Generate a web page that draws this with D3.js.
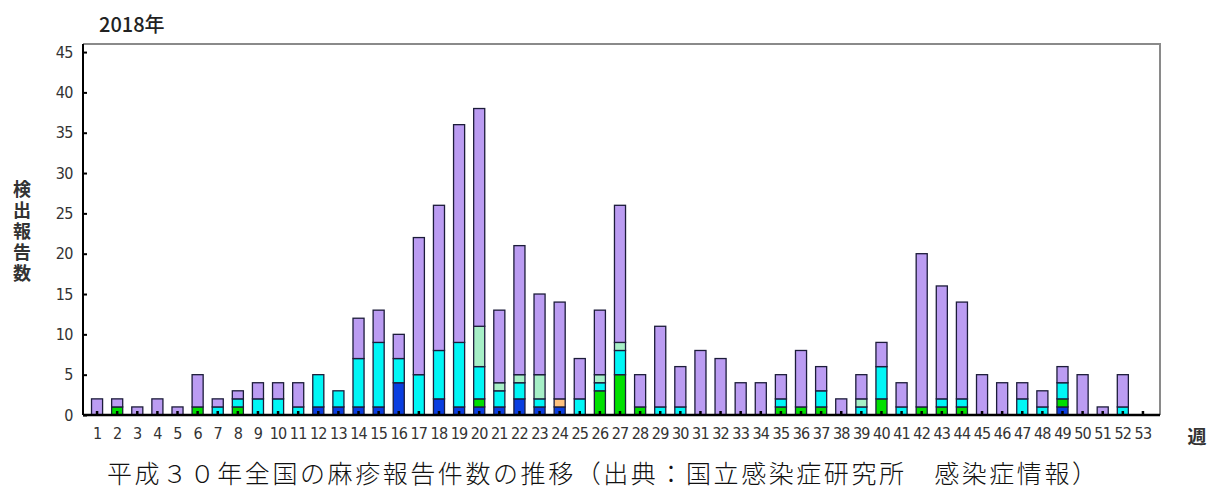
<!DOCTYPE html>
<html>
<head>
<meta charset="utf-8">
<script src="https://cdn.jsdelivr.net/npm/d3@7"></script>
<style>
  body { margin: 0; background: #fff; }
  svg { display: block; }
</style>
</head>
<body>
<script>
// weeks 1..53 of 2018
var weeks = ["1","2","3","4","5","6","7","8","9","10","11","12","13","14","15","16","17","18","19","20",
  "21","22","23","24","25","26","27","28","29","30","31","32","33","34","35","36","37","38","39","40",
  "41","42","43","44","45","46","47","48","49","50","51","52","53"]

// stacked segments, bottom to top
var blue   = [0,0,0,0,0,0,0,0,0,0,0,1,1,1,1,4,0,2,1,1,1,2,1,1,0,0,0,0,0,0,0,0,0,0,0,0,0,0,0,0,0,0,0,0,0,0,0,0,1,0,0,0,0]
var green  = [0,1,0,0,0,1,0,1,0,0,0,0,0,0,0,0,0,0,0,1,0,0,0,0,0,3,5,1,0,0,0,0,0,0,1,1,1,0,0,2,0,1,1,1,0,0,0,0,1,0,0,0,0]
var cyan   = [0,0,0,0,0,0,1,1,2,2,1,4,2,6,8,3,5,6,8,4,2,2,1,0,2,1,3,0,1,1,0,0,0,0,1,0,2,0,1,4,1,0,1,1,0,0,2,1,2,0,0,1,0]
var mint   = [0,0,0,0,0,0,0,0,0,0,0,0,0,0,0,0,0,0,0,5,1,1,3,0,0,1,1,0,0,0,0,0,0,0,0,0,0,0,1,0,0,0,0,0,0,0,0,0,0,0,0,0,0]
var orange = [0,0,0,0,0,0,0,0,0,0,0,0,0,0,0,0,0,0,0,0,0,0,0,1,0,0,0,0,0,0,0,0,0,0,0,0,0,0,0,0,0,0,0,0,0,0,0,0,0,0,0,0,0]
var purple = [2,1,1,2,1,4,1,1,2,2,3,0,0,5,4,3,17,18,27,27,9,16,10,12,5,8,17,4,10,5,8,7,4,4,3,7,3,2,3,3,3,19,14,12,5,4,2,2,2,5,1,4,0]

var yTicks = [0,5,10,15,20,25,30,35,40,45]

var keys = ["blue","green","cyan","mint","orange","purple"]
var colors = ["#0a3ee0","#00e000","#00f6f6","#a6efc6","#ffc27e","#bb9cf2"]

var rows = weeks.map(function (w, i) {
  return { week: w, blue: blue[i], green: green[i], cyan: cyan[i],
    mint: mint[i], orange: orange[i], purple: purple[i] }
})

var svg = d3.select("body")
  .append("svg")
  .attr("width", 1213)
  .attr("height", 491)

var plotL = 83, plotR = 1160, plotT = 44, plotB = 415

var x = d3.scaleBand()
  .domain(weeks)
  .range([87, 1153])
  .paddingInner(0.45)
  .paddingOuter(0.225)

var y = d3.scaleLinear()
  .domain([0, 46])
  .range([plotB, plotT])

// grey frame top / right
svg.append("path")
  .attr("d", "M" + plotL + "," + plotT + "H" + plotR + "V" + plotB)
  .attr("fill", "none")
  .attr("stroke", "#8a8a8a")
  .attr("stroke-width", 2)

var stack = d3.stack().keys(keys)(rows)

svg.selectAll("g.layer")
  .data(stack)
  .enter()
  .append("g")
  .attr("class", "layer")
  .attr("fill", function (d, i) { return colors[i] })
  .selectAll("rect")
  .data(function (d) { return d.filter(function (s) { return s[1] > s[0] }) })
  .enter()
  .append("rect")
  .attr("x", function (d) { return x(d.data.week) })
  .attr("width", x.bandwidth())
  .attr("y", function (d) { return y(d[1]) })
  .attr("height", function (d) { return y(d[0]) - y(d[1]) })
  .attr("stroke", "#1c1c3a")
  .attr("stroke-width", 1.3)

// axes
var numFont = "'Liberation Sans Narrow', 'DejaVu Sans Condensed', 'Roboto', sans-serif"

var yAxis = svg.append("g")
  .attr("transform", "translate(" + plotL + ",0)")
  .call(d3.axisLeft(y).tickValues(yTicks).tickSizeInner(-4).tickSizeOuter(0).tickPadding(10))
yAxis.select(".domain").attr("d", "M0," + plotT + "V" + plotB).attr("stroke", "#000").attr("stroke-width", 2)
yAxis.selectAll(".tick line").attr("stroke", "#000").attr("stroke-width", 2)
yAxis.selectAll("text")
  .style("font-family", numFont)
  .style("font-size", "16px")
  .style("letter-spacing", "-0.5px")
  .attr("fill", "#333")

var xAxis = svg.append("g")
  .attr("transform", "translate(0," + plotB + ")")
  .call(d3.axisBottom(x).tickSizeInner(-4).tickSizeOuter(0).tickPadding(13))
xAxis.select(".domain").attr("d", "M" + plotL + ",0H" + plotR).attr("stroke", "#000").attr("stroke-width", 2.5)
xAxis.selectAll(".tick line").attr("stroke", "#000").attr("stroke-width", 2.5)
xAxis.selectAll("text")
  .style("font-family", numFont)
  .style("font-size", "16px")
  .style("letter-spacing", "-0.8px")
  .attr("fill", "#333")

// labels
var jp = "'Noto Sans CJK JP', sans-serif"

svg.append("text")
  .attr("x", 99)
  .attr("y", 32)
  .style("font-family", jp)
  .style("font-size", "20px")
  .style("font-weight", 500)
  .attr("fill", "#222")
  .text("2018年")

svg.append("text")
  .attr("x", 22)
  .attr("y", 180)
  .style("font-family", jp)
  .style("font-size", "18px")
  .style("font-weight", "bold")
  .style("writing-mode", "vertical-rl")
  .style("letter-spacing", "3px")
  .attr("fill", "#333")
  .text("検出報告数")

svg.append("text")
  .attr("x", 1197)
  .attr("y", 444)
  .attr("text-anchor", "middle")
  .style("font-family", jp)
  .style("font-size", "19px")
  .style("font-weight", "bold")
  .attr("fill", "#333")
  .text("週")

svg.append("text")
  .attr("x", 602)
  .attr("y", 483)
  .attr("text-anchor", "middle")
  .style("font-family", jp)
  .style("font-size", "25px")
  .style("font-weight", 300)
  .attr("textLength", 990)
  .attr("fill", "#111")
  .text("平成３０年全国の麻疹報告件数の推移（出典：国立感染症研究所　感染症情報）")
</script>
</body>
</html>
